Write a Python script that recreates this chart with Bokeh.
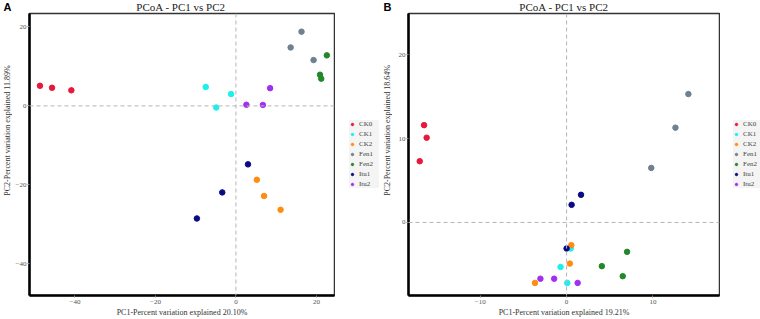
import math
from bokeh.plotting import figure
from bokeh.layouts import row, column
from bokeh.models import Legend, LegendItem, Span, FixedTicker, Label
from bokeh.embed import file_html
from bokeh.resources import INLINE

groups = ["CK0", "CK1", "CK2", "Fen1", "Fen2", "Itu1", "Itu2"]
colors = ["#E8173C", "#19F0F0", "#FF8C0F", "#6F8090", "#22882A", "#0A0A88", "#A030F0"]

# Panel A coordinates (PC1, PC2) per group
a_x = {
    "CK0": [-48.7, -45.7, -40.9],
    "CK1": [-7.5, -4.9, -1.2],
    "CK2": [5.2, 7.0, 11.1],
    "Fen1": [13.6, 16.3, 19.3],
    "Fen2": [22.6, 20.9, 21.2],
    "Itu1": [3.0, -3.4, -9.7],
    "Itu2": [2.6, 6.7, 8.5],
}
a_y = {
    "CK0": [5.1, 4.6, 3.95],
    "CK1": [4.8, -0.4, 3.0],
    "CK2": [-18.7, -22.8, -26.3],
    "Fen1": [14.8, 18.8, 11.6],
    "Fen2": [12.8, 7.9, 6.9],
    "Itu1": [-14.8, -21.9, -28.5],
    "Itu2": [0.3, 0.25, 4.5],
}
# Panel B coordinates
b_x = {
    "CK0": [-16.5, -16.2, -17.0],
    "CK1": [0.47, -0.7, 0.08],
    "CK2": [0.54, 0.38, -3.66],
    "Fen1": [14.1, 12.6, 9.8],
    "Fen2": [7.0, 4.08, 6.5],
    "Itu1": [1.67, 0.58, 0.0],
    "Itu2": [-3.03, -1.44, 1.28],
}
b_y = {
    "CK0": [11.6, 10.1, 7.3],
    "CK1": [-3.1, -5.3, -7.2],
    "CK2": [-2.7, -4.9, -7.2],
    "Fen1": [15.3, 11.3, 6.5],
    "Fen2": [-3.5, -5.2, -6.4],
    "Itu1": [3.3, 2.1, -3.1],
    "Itu2": [-6.7, -6.7, -7.2],
}

a_xticks = [-40, -20, 0, 20]
a_yticks = [-40, -20, 0, 20]
b_xticks = [-10, 0, 10]
b_yticks = [0, 10, 20]

title_text = "PCoA - PC1 vs PC2"

SERIF = "Liberation Serif"
H = 319
HEAD = 12
BOTTOM = 24
YL = 12          # width of the strip holding the rotated y-axis label
MH = H - HEAD    # height of the main plotting canvas


def make_header(letter, w, fl, fw):
    h = figure(width=w, height=HEAD, x_range=(0, 1), y_range=(0, 1),
               output_backend="svg", toolbar_location=None,
               x_axis_type=None, y_axis_type=None, min_border=0)
    h.outline_line_color = None
    h.grid.visible = False
    h.add_layout(Label(x=3, y=HEAD / 2, x_units="screen", y_units="screen",
                       text=letter, text_font="Liberation Sans",
                       text_font_style="bold", text_font_size="11px",
                       text_baseline="middle", text_color="black"))
    h.add_layout(Label(x=fl + fw / 2, y=HEAD / 2, x_units="screen", y_units="screen",
                       text=title_text, text_font=SERIF, text_font_size="11px",
                       text_align="center", text_baseline="middle",
                       text_color="#222222"))
    return h


def make_ylabel(text):
    s = figure(width=YL, height=MH, x_range=(0, 1), y_range=(0, 1),
               output_backend="svg", toolbar_location=None,
               x_axis_type=None, y_axis_type=None, min_border=0)
    s.outline_line_color = None
    s.grid.visible = False
    s.add_layout(Label(x=7, y=BOTTOM + (MH - BOTTOM - 1) / 2,
                       x_units="screen", y_units="screen",
                       text=text, angle=math.pi / 2, text_align="center",
                       text_baseline="middle", text_font=SERIF,
                       text_font_size="8px", text_color="#333333"))
    return s


def make_panel(xs, ys, xr, yr, xticks, yticks, xlabel, fl, w):
    p = figure(width=w, height=MH, x_range=xr, y_range=yr,
               output_backend="svg", toolbar_location=None,
               min_border_left=fl, min_border_right=1,
               min_border_top=1, min_border_bottom=BOTTOM)
    p.grid.visible = False
    p.background_fill_color = "white"
    p.outline_line_color = "#333333"
    p.outline_line_width = 1.5

    for ax in (p.xaxis, p.yaxis):
        ax.axis_line_color = "black"
        ax.axis_line_width = 2.5
        ax.major_tick_out = 2
        ax.major_tick_in = 0
        ax.minor_tick_out = 0
        ax.minor_tick_in = 0
        ax.major_tick_line_color = "#888888"
        ax.major_label_text_font = SERIF
        ax.major_label_text_font_size = "7px"
        ax.major_label_text_color = "#555555"
        ax.major_label_standoff = 2
        ax.axis_label_text_font = SERIF
        ax.axis_label_text_font_size = "8px"
        ax.axis_label_text_font_style = "normal"
        ax.axis_label_text_color = "#333333"
        ax.axis_label_standoff = 1
    p.yaxis.major_label_standoff = 1
    p.xaxis.ticker = FixedTicker(ticks=xticks)
    p.yaxis.ticker = FixedTicker(ticks=yticks)
    p.xaxis.axis_label = xlabel

    for dim in ("width", "height"):
        p.add_layout(Span(location=0, dimension=dim, line_color="#b5b5b5",
                          line_dash="4 3", line_width=1))

    for g, c in zip(groups, colors):
        p.scatter(xs[g], ys[g], size=5.5, fill_color=c, line_color=c)
    return p


def make_legend(w, lx, xs, ys):
    q = figure(width=w, height=H, x_range=(1000, 1001), y_range=(1000, 1001),
               output_backend="svg", toolbar_location=None,
               x_axis_type=None, y_axis_type=None, min_border=0)
    q.outline_line_color = None
    q.grid.visible = False
    items = []
    for g, c in zip(groups, colors):
        r = q.scatter(xs[g], ys[g], size=5.5, fill_color=c, line_color=c)
        items.append(LegendItem(label=g, renderers=[r]))
    legend = Legend(items=items, location=(lx, 131),
                    label_text_font=SERIF, label_text_font_size="7px",
                    label_text_color="#444444",
                    glyph_width=6, glyph_height=6, label_height=8,
                    label_standoff=4, spacing=2, padding=3, margin=0,
                    background_fill_color="#f4f4f4", background_fill_alpha=1,
                    border_line_color=None)
    q.add_layout(legend, "center")
    return q


pa = make_panel(a_x, a_y, (-51.3, 24.5), (-48, 23.4), a_xticks, a_yticks,
                "PC1-Percent variation explained 20.10%", 27 - YL, 335 - YL)
ya = make_ylabel("PC2-Percent variation explained 11.89%")
ha = make_header("A", 335, 27, 307)
la = make_legend(45, 14, a_x, a_y)
pb = make_panel(b_x, b_y, (-18.3, 17.7), (-8.7, 24.9), b_xticks, b_yticks,
                "PC1-Percent variation explained 19.21%", 28 - YL, 340 - YL)
yb = make_ylabel("PC2-Percent variation explained 18.64%")
hb = make_header("B", 340, 28, 311)
lb = make_legend(40, 13, b_x, b_y)

layout = row(column(ha, row(ya, pa, spacing=0), spacing=0), la,
             column(hb, row(yb, pb, spacing=0), spacing=0), lb, spacing=0)
open("out.html", "w").write(file_html(layout, INLINE))
